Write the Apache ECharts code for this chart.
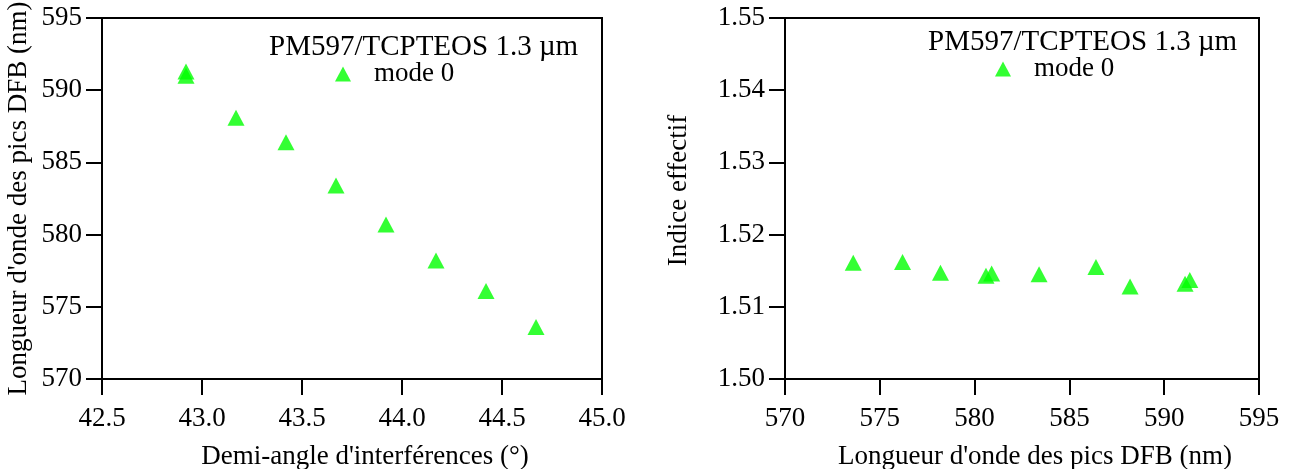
<!DOCTYPE html>
<html>
<head>
<meta charset="utf-8">
<script src="https://cdn.jsdelivr.net/npm/echarts@6/dist/echarts.min.js"></script>
<style>
html,body{margin:0;padding:0;background:#fff;}
#c{width:1295px;height:469px;}
</style>
</head>
<body>
<div id="c"></div>
<script>
// ---- data ----
var legendTitle = 'PM597/TCPTEOS 1.3 µm';
var seriesName = 'mode 0';
// Left: half-angle (deg) vs DFB peak wavelength (nm)
var angles = [42.92, 42.92, 43.17, 43.42, 43.67, 43.92, 44.17, 44.42, 44.67];
var wavelengthsA = [591.0, 591.3, 588.1, 586.4, 583.4, 580.7, 578.2, 576.1, 573.6];
// Right: DFB peak wavelength (nm) vs effective index
var wavelengthsB = [573.6, 576.2, 578.2, 580.6, 580.9, 583.4, 586.4, 588.2, 591.1, 591.35];
var indices = [1.5161, 1.5162, 1.5147, 1.5143, 1.5146, 1.5145, 1.5155, 1.5128, 1.5132, 1.5137];

var leftXName = "Demi-angle d'interférences (°)";
var leftYName = "Longueur d'onde des pics DFB (nm)";
var rightXName = "Longueur d'onde des pics DFB (nm)";
var rightYName = "Indice effectif";

function pairs(xs, ys){ var out=[]; for(var i=0;i<xs.length;i++){ out.push([xs[i], ys[i]]); } return out; }

var FONT = "'Liberation Serif', 'Times New Roman', serif";
var GREEN = '#00ff00';
var tickFont = 27, nameFont = 27, legFont = 29, modeFont = 27;

function xAxisCfg(gi, min, max, interval, dec, name){
  return {
    type:'value', gridIndex:gi, min:min, max:max, interval:interval,
    name:name, nameLocation:'middle', nameGap:64,
    nameTextStyle:{fontFamily:FONT, fontSize:nameFont, color:'#000', padding:[0,0,0,26]},
    axisLine:{show:true, onZero:false, lineStyle:{color:'#000', width:2}},
    axisTick:{show:true, inside:false, length:16, lineStyle:{color:'#000', width:2}},
    axisLabel:{fontFamily:FONT, fontSize:tickFont, color:'#000', margin:26,
      formatter:function(v){ return v.toFixed(dec); }},
    splitLine:{show:false}
  };
}
function yAxisCfg(gi, min, max, interval, dec, name, gap, pad){
  return {
    type:'value', gridIndex:gi, min:min, max:max, interval:interval,
    name:name, nameLocation:'middle', nameGap:gap,
    nameTextStyle:{fontFamily:FONT, fontSize:nameFont, color:'#000', padding:pad},
    axisLine:{show:true, onZero:false, lineStyle:{color:'#000', width:2}},
    axisTick:{show:true, inside:false, length:16, lineStyle:{color:'#000', width:2}},
    axisLabel:{fontFamily:FONT, fontSize:tickFont, color:'#000', margin:20,
      formatter:function(v){ return v.toFixed(dec); }},
    splitLine:{show:false}
  };
}

var chart = echarts.init(document.getElementById('c'), null, {renderer:'canvas'});
chart.setOption({
  animation:false,
  backgroundColor:'#fff',
  grid:[
    {left:102, top:18, width:500, height:361, show:true, borderColor:'#000', borderWidth:2, backgroundColor:'transparent', containLabel:false, outerBoundsMode:'none'},
    {left:785, top:18, width:474, height:361, show:true, borderColor:'#000', borderWidth:2, backgroundColor:'transparent', containLabel:false, outerBoundsMode:'none'}
  ],
  title:[
    {text:legendTitle, left:269, top:32, padding:0, textStyle:{fontFamily:FONT, fontSize:legFont, fontWeight:'normal', color:'#000', lineHeight:30}},
    {text:legendTitle, left:928, top:27, padding:0, textStyle:{fontFamily:FONT, fontSize:legFont, fontWeight:'normal', color:'#000', lineHeight:30}}
  ],
  legend:[
    {data:[{name:seriesName, icon:'triangle'}], left:335, top:59, padding:0, itemWidth:16, itemHeight:15,
      textStyle:{fontFamily:FONT, fontSize:modeFont, color:'#000', lineHeight:30, padding:[0,0,0,18]}},
    {data:[{name:seriesName, icon:'triangle'}], left:995, top:54, padding:0, itemWidth:16, itemHeight:15,
      textStyle:{fontFamily:FONT, fontSize:modeFont, color:'#000', lineHeight:30, padding:[0,0,0,18]}}
  ],
  xAxis:[
    xAxisCfg(0, 42.5, 45.0, 0.5, 1, leftXName),
    xAxisCfg(1, 570, 595, 5, 0, rightXName)
  ],
  yAxis:[
    yAxisCfg(0, 570, 595, 5, 0, leftYName, 70, [0,0,0,0]),
    yAxisCfg(1, 1.50, 1.55, 0.01, 2, rightYName, 93, [0,0,0,16])
  ],
  series:[
    {type:'scatter', name:seriesName, xAxisIndex:0, yAxisIndex:0, data:pairs(angles, wavelengthsA),
      symbol:'triangle', symbolSize:[17,16], itemStyle:{color:GREEN}},
    {type:'scatter', name:seriesName, xAxisIndex:1, yAxisIndex:1, data:pairs(wavelengthsB, indices),
      symbol:'triangle', symbolSize:[17,16], itemStyle:{color:GREEN}}
  ]
});
</script>
</body>
</html>
